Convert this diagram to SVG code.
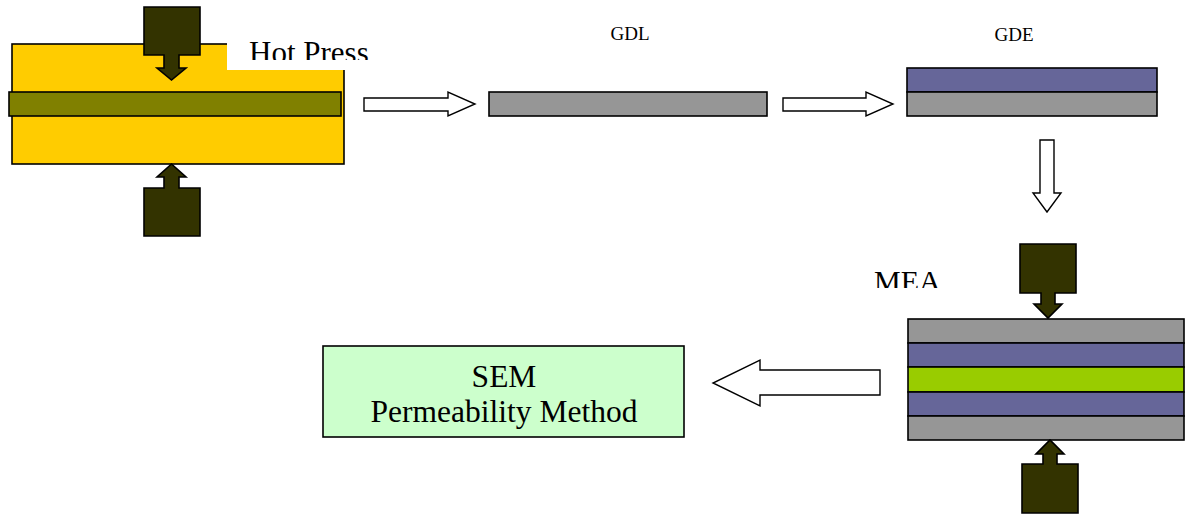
<svg xmlns="http://www.w3.org/2000/svg" width="1185" height="515" viewBox="0 0 1185 515">
  <defs>
    <style>
      .ln { stroke: #000; stroke-width: 1.6; }
      .press { fill: #333300; stroke: #000; stroke-width: 1.6; stroke-linejoin: miter; }
      .hollow { fill: #fff; stroke: #000; stroke-width: 1.4; stroke-linejoin: miter; }
      .gray { fill: #969696; }
      .purple { fill: #666699; }
      .lbl { font-family: "Liberation Serif", "Times New Roman", serif; fill: #000; }
    </style>
    <clipPath id="clip-hot"><rect x="227" y="0" width="160" height="60"/></clipPath>
    <clipPath id="clip-mea"><rect x="860" y="250" width="120" height="38"/></clipPath>
  </defs>

  <!-- hot press stage -->
  <g id="hot-press">
    <rect x="12" y="44" width="332" height="120" fill="#FFCC00" class="ln"/>
    <rect x="9" y="92" width="332" height="24" fill="#808000" class="ln"/>
    <rect x="227" y="0" width="120" height="70" fill="#fff"/>
    <text class="lbl" x="249" y="63" font-size="31" clip-path="url(#clip-hot)">Hot Press</text>
    <path class="press" d="M144,7 H200 V55 H179 V68 H186 L171.5,80 L157,68 H164 V55 H144 Z"/>
    <path class="press" d="M144,236 H200 V188 H179 V177 H186 L171.5,164 L157,177 H164 V188 H144 Z"/>
  </g>

  <!-- gas diffusion layer -->
  <g id="gdl">
    <text class="lbl" x="630" y="40" font-size="19" text-anchor="middle">GDL</text>
    <rect x="489" y="92" width="278" height="24" class="gray ln"/>
  </g>

  <!-- gas diffusion electrode -->
  <g id="gde">
    <text class="lbl" x="1014" y="41" font-size="19" text-anchor="middle">GDE</text>
    <rect x="907" y="68" width="250" height="24" class="purple ln"/>
    <rect x="907" y="92" width="250" height="24" class="gray ln"/>
  </g>

  <!-- membrane electrode assembly -->
  <g id="mea">
    <text class="lbl" x="874" y="291" font-size="30" clip-path="url(#clip-mea)">MEA</text>
    <path class="press" d="M1020,244 H1076 V293 H1055 V304 H1062 L1048,318 L1034,304 H1041 V293 H1020 Z"/>
    <rect x="908" y="319" width="276" height="24" class="gray ln"/>
    <rect x="908" y="343" width="276" height="24" class="purple ln"/>
    <rect x="908" y="367" width="276" height="25" fill="#99CC00" class="ln"/>
    <rect x="908" y="392" width="276" height="24" class="purple ln"/>
    <rect x="908" y="416" width="276" height="24" class="gray ln"/>
    <path class="press" d="M1022,513 H1078 V464 H1057 V454 H1064 L1050,440 L1036,454 H1043 V464 H1022 Z"/>
  </g>

  <!-- characterisation methods -->
  <g id="methods">
    <rect x="323" y="346" width="361" height="91" fill="#CCFFCC" class="ln"/>
    <text class="lbl" x="504" y="387" font-size="31.5" text-anchor="middle">SEM</text>
    <text class="lbl" x="504" y="422" font-size="31.5" text-anchor="middle">Permeability Method</text>
  </g>

  <!-- process flow arrows -->
  <g id="connectors">
    <path class="hollow" d="M364,98 H448 V92 L475,104 L448,116 V111 H364 Z"/>
    <path class="hollow" d="M783,98 H866 V92 L893,104 L866,116 V111 H783 Z"/>
    <path class="hollow" d="M1040,140 V193 H1033 L1047,212 L1061,193 H1054 V140 Z"/>
    <path class="hollow" d="M880,370 V395 H760 V406 L713,383 L760,360 V370 Z"/>
  </g>
</svg>
